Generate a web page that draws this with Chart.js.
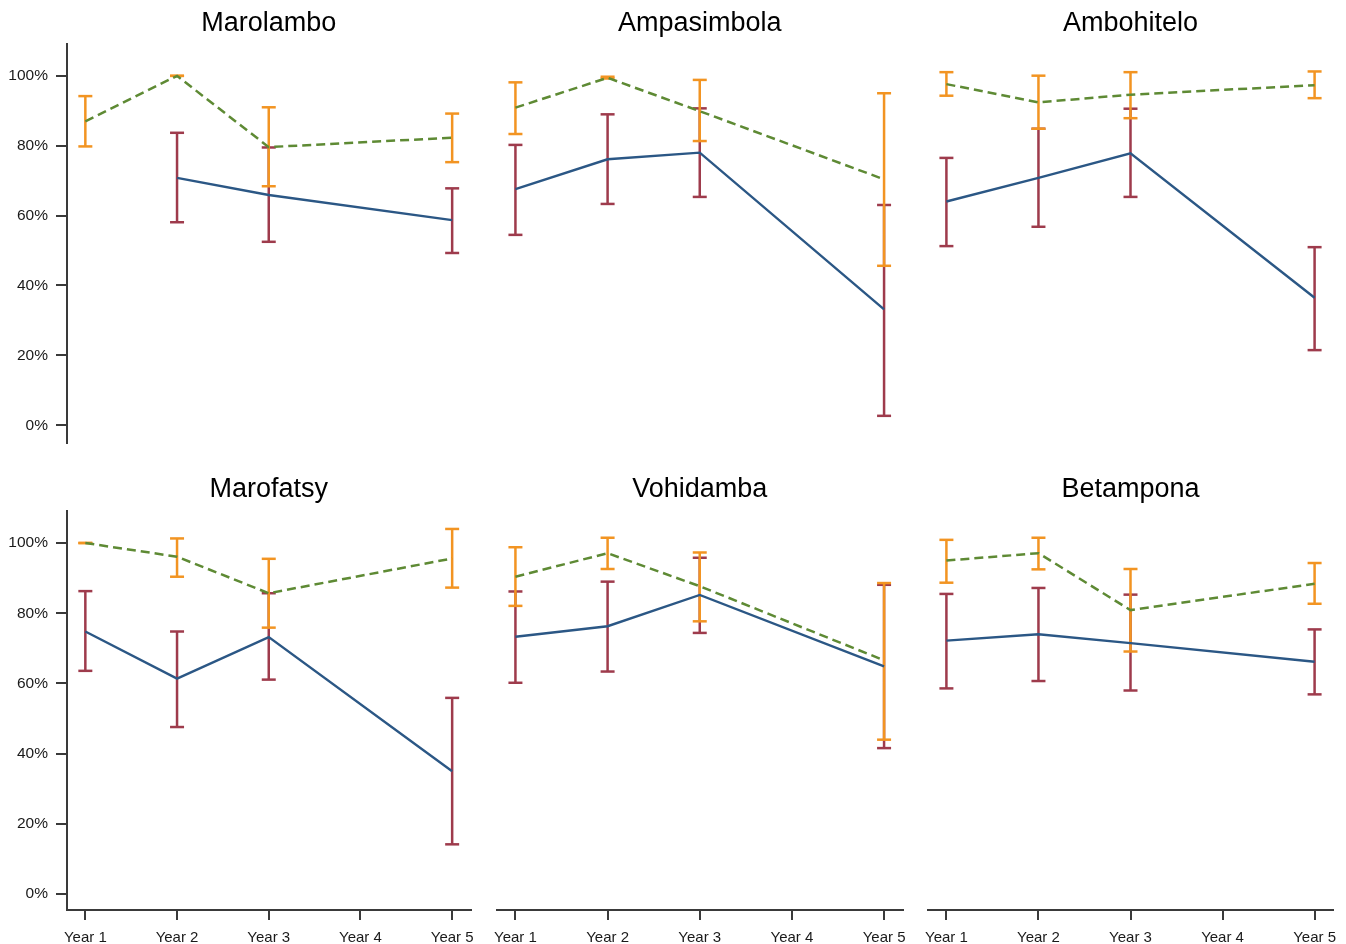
<!DOCTYPE html>
<html>
<head>
<meta charset="utf-8">
<script src="https://cdn.jsdelivr.net/npm/chart.js@4.4.1/dist/chart.umd.min.js"></script>
<style>
  html, body { margin: 0; padding: 0; background: #fff; }
  #wrap { position: relative; width: 1346px; height: 944px; overflow: hidden; }
  #wrap canvas { position: absolute; }
</style>
</head>
<body>
<div id="wrap"></div>
<script>
const sites = ['Marolambo', 'Ampasimbola', 'Ambohitelo', 'Marofatsy', 'Vohidamba', 'Betampona'];
const years = [1, 2, 3, 5];
const yearLabels = ['Year 1', 'Year 2', 'Year 3', 'Year 4', 'Year 5'];
const yTicks = [0, 20, 40, 60, 80, 100];

// solid line + dark red error bars
const solidMean = [
    [null, 70.8, 65.9, 58.7],
    [67.8, 76.3, 78.2, 33.6],
    [64.3, 71.0, 78.0, 36.9],
    [74.8, 61.4, 73.2, 35.0],
    [73.3, 76.3, 85.2, 64.9],
    [72.2, 74.0, 71.5, 66.2]
];
const solidLow = [
    [null, 58.1, 52.5, 49.3],
    [54.8, 63.6, 65.6, 3.3],
    [51.6, 57.1, 65.6, 22.0],
    [63.6, 47.6, 61.1, 14.2],
    [60.2, 63.4, 74.4, 41.6],
    [58.6, 60.7, 58.0, 56.9]
];
const solidHigh = [
    [null, 83.7, 79.5, 67.8],
    [80.4, 89.1, 90.8, 63.3],
    [76.7, 85.0, 90.7, 51.3],
    [86.3, 74.8, 85.7, 55.9],
    [86.2, 89.0, 95.8, 88.1],
    [85.5, 87.2, 85.3, 75.4]
];

// dashed line + orange error bars
const dashedMean = [
    [87.0, 100, 79.6, 82.3],
    [91.0, 99.5, 90.0, 70.6],
    [97.7, 92.5, 94.7, 97.4],
    [100, 96.1, 85.7, 95.6],
    [90.4, 97.1, 87.7, 66.6],
    [95.0, 97.1, 80.9, 88.4]
];
const dashedLow = [
    [79.8, 100, 68.4, 75.3],
    [83.5, 99.3, 81.5, 46.0],
    [94.4, 85.0, 88.0, 93.7],
    [100, 90.4, 75.9, 87.3],
    [82.1, 92.6, 77.7, 44.0],
    [88.7, 92.5, 69.1, 82.7]
];
const dashedHigh = [
    [94.2, 100, 91.0, 89.2],
    [98.2, 99.8, 98.9, 95.1],
    [101.1, 100.1, 101.1, 101.3],
    [100, 101.3, 95.5, 104.0],
    [98.8, 101.5, 97.3, 88.6],
    [100.9, 101.5, 92.6, 94.3]
];

Chart.defaults.font.family = "'Liberation Sans', Arial, Helvetica, sans-serif";
Chart.defaults.color = '#1a1a1a';

const colors = {
    solid: '#2b5785',
    solidBar: '#9e3b4c',
    dashed: '#5e8a34',
    dashedBar: '#f29422',
    axis: '#3a3a3a'
};

// canvas boxes for the 3 columns / 2 rows
const cols = [
    { left: 0, width: 480, padL: 0, padR: 8 },
    { left: 480, width: 432, padL: 17, padR: 9 },
    { left: 912, width: 434, padL: 16, padR: 13 }
];
const rows = [
    { top: 0, height: 460, titleTop: 7, titleBottom: 5, padB: 15, yMin: -5, yMax: 109 },
    { top: 460, height: 484, titleTop: 13, titleBottom: 6, padB: 0, yMin: -4.5, yMax: 109 }
];

const barData = (lo, hi) => {
    const pts = [];
    years.forEach((yr, i) => {
        if (lo[i] == null) return;
        pts.push({ x: yr, y: lo[i] }, { x: yr, y: hi[i] }, { x: yr, y: null });
    });
    return pts;
};
const lineData = (m) => years.map((yr, i) => ({ x: yr, y: m[i] })).filter(p => p.y != null);

const errorBarSet = (data, color) => ({
    data: data,
    borderColor: color,
    borderWidth: 2.5,
    pointStyle: 'line',
    pointRadius: 7,
    pointHoverRadius: 7,
    pointBorderColor: color,
    pointBorderWidth: 2.5,
    fill: false,
    spanGaps: false
});

const wrap = document.getElementById('wrap');

sites.forEach((site, k) => {
    const row = rows[Math.floor(k / 3)];
    const col = cols[k % 3];
    const isBottom = k >= 3;
    const isLeft = k % 3 === 0;

    const canvas = document.createElement('canvas');
    canvas.width = col.width;
    canvas.height = row.height;
    canvas.style.left = col.left + 'px';
    canvas.style.top = row.top + 'px';
    wrap.appendChild(canvas);

    new Chart(canvas.getContext('2d'), {
        type: 'line',
        data: {
            datasets: [
                {
                    data: lineData(dashedMean[k]),
                    borderColor: colors.dashed,
                    borderWidth: 2.5,
                    borderDash: [9, 5],
                    pointRadius: 0,
                    fill: false
                },
                {
                    data: lineData(solidMean[k]),
                    borderColor: colors.solid,
                    borderWidth: 2.4,
                    pointRadius: 0,
                    fill: false
                },
                errorBarSet(barData(dashedLow[k], dashedHigh[k]), colors.dashedBar),
                errorBarSet(barData(solidLow[k], solidHigh[k]), colors.solidBar)
            ]
        },
        options: {
            responsive: false,
            animation: false,
            events: [],
            clip: false,
            layout: { padding: { left: col.padL, right: col.padR, top: 0, bottom: row.padB } },
            plugins: {
                legend: { display: false },
                tooltip: { enabled: false },
                title: {
                    display: true,
                    text: site,
                    fullSize: false,
                    color: '#000',
                    font: { size: 27, weight: 'normal', lineHeight: 1.2 },
                    padding: { top: row.titleTop, bottom: row.titleBottom }
                }
            },
            scales: {
                x: {
                    type: 'linear',
                    display: isBottom,
                    min: 0.8,
                    max: 5.2,
                    afterBuildTicks: (scale) => { scale.ticks = [1, 2, 3, 4, 5].map(v => ({ value: v })); },
                    afterFit: (scale) => {
                        if (isBottom) scale.height = 34;
                        scale.paddingLeft = 0;
                        scale.paddingRight = 0;
                    },
                    border: { display: true, color: colors.axis, width: 2 },
                    grid: { display: true, drawOnChartArea: false, drawTicks: true, tickLength: 10, color: colors.axis, lineWidth: 2 },
                    ticks: {
                        maxRotation: 0,
                        autoSkip: false,
                        padding: 9,
                        color: '#1a1a1a',
                        font: { size: 15 },
                        callback: (v) => yearLabels[v - 1]
                    }
                },
                y: {
                    display: isLeft,
                    min: row.yMin,
                    max: row.yMax,
                    afterBuildTicks: (scale) => { scale.ticks = yTicks.map(v => ({ value: v })); },
                    afterFit: (scale) => { if (isLeft) scale.width = 67; },
                    border: { display: true, color: colors.axis, width: 2 },
                    grid: { display: true, drawOnChartArea: false, drawTicks: true, tickLength: 11, color: colors.axis, lineWidth: 2 },
                    ticks: {
                        padding: 8,
                        color: '#1a1a1a',
                        font: { size: 15.5 },
                        callback: (v) => v + '%'
                    }
                }
            }
        }
    });
});
</script>
</body>
</html>
